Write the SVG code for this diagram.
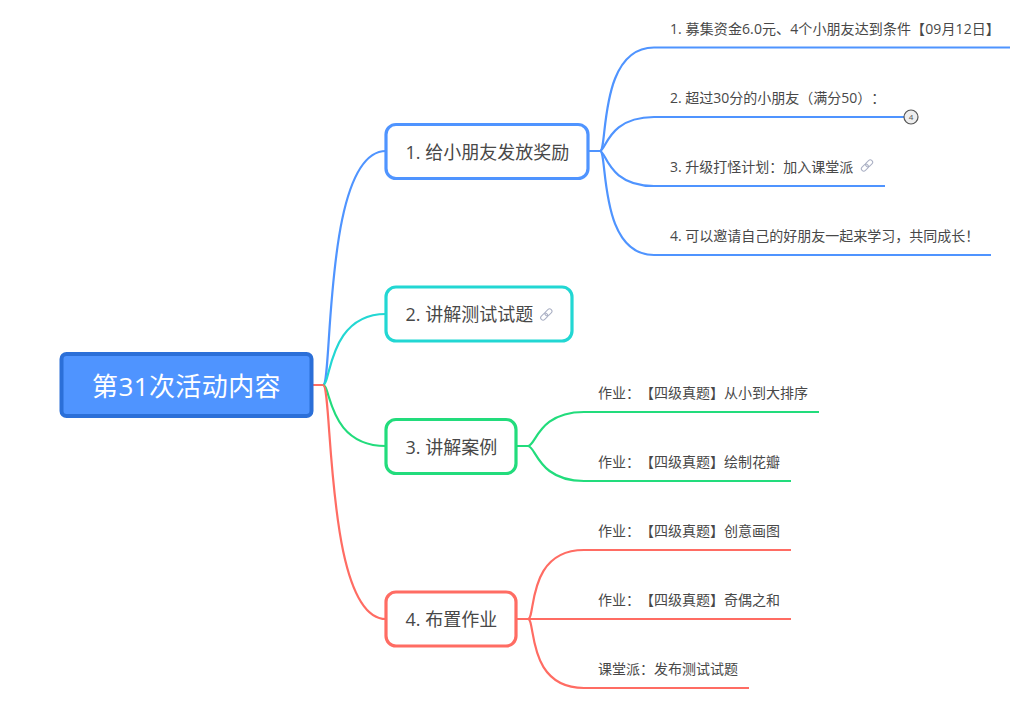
<svg xmlns="http://www.w3.org/2000/svg" width="1023" height="703" viewBox="0 0 1023 703">
<style>
text{font-family:"Open Sans","Noto Sans CJK SC",sans-serif;fill:#484848;text-spacing-trim:space-all;font-feature-settings:"chws" 0,"palt" 0}
.t{font-size:18px}
.l{font-size:14px}
.c{fill:none;stroke-width:2.2;stroke-linecap:butt}
.box{fill:#fff;stroke-width:3.2}
.blue{stroke:#4f94ff}.cyan{stroke:#22d7d3}.green{stroke:#22dc7c}.red{stroke:#ff6c63}
.lk{fill:none;stroke:#aab0c4;stroke-width:1}
</style>
<defs>
<g id="link" transform="rotate(-45)"><rect x="-7" y="-2.400" width="8" height="4.800" rx="2.400" class="lk"/><rect x="-1" y="-2.400" width="8" height="4.800" rx="2.400" class="lk"/></g>
</defs>
<rect width="1023" height="703" fill="#fff"/>
<g id="connectors">
<path class="c blue" d="M313 385H323C333 385 323 151 386 151"/>
<path class="c cyan" d="M313 385H323C331 385 328 314 386 314"/>
<path class="c green" d="M313 385H323C331 385 328 446 386 446"/>
<path class="c red" d="M313 385H323C333 385 325 619 386 619"/>
<path class="c blue" d="M589 151H600C608 151 598 47.5 654 47.5H1010"/>
<path class="c blue" d="M589 151H600C606 151 608 117 654 117H904"/>
<path class="c blue" d="M589 151H600C606 151 608 186 654 186H885"/>
<path class="c blue" d="M589 151H600C608 151 598 255 654 255H991"/>
<path class="c green" d="M517 446H528C536 446 538 412 584 412H819"/>
<path class="c green" d="M517 446H528C536 446 538 481 584 481H791"/>
<path class="c red" d="M517 619H528C536 619 526 550 584 550H791"/>
<path class="c red" d="M517 619H791"/>
<path class="c red" d="M517 619H528C536 619 526 688 584 688H749"/>
</g>
<g id="root">
<rect x="61.500" y="354" width="250" height="62" rx="5" fill="#4f94ff" stroke="#2b6fd8" stroke-width="4"/>
<text x="186.500" y="396" font-size="26" letter-spacing="0.400" text-anchor="middle" style="fill:#fff">第31次活动内容</text>
</g>
<g id="n1"><rect class="box blue" x="386" y="124.500" width="202" height="54" rx="10"/><text class="t" x="405.500" y="159">1. 给小朋友发放奖励</text></g>
<g id="n2"><rect class="box cyan" x="386" y="287" width="186" height="54" rx="10"/><text class="t" x="405.500" y="321">2. 讲解测试试题</text><use href="#link" x="546.300" y="314.500"/></g>
<g id="n3"><rect class="box green" x="386" y="419.500" width="130" height="54" rx="10"/><text class="t" x="405.500" y="454">3. 讲解案例</text></g>
<g id="n4"><rect class="box red" x="386" y="592" width="130" height="54" rx="10"/><text class="t" x="405.500" y="626">4. 布置作业</text></g>
<g id="n1-1"><text class="l" x="670" y="34" letter-spacing="0.100">1. 募集资金6.0元、4个小朋友达到条件【09月12日】</text></g>
<g id="n1-2"><text class="l" x="670" y="103">2. 超过30分的小朋友（满分50）：</text><circle cx="911" cy="117" r="7" fill="#eee" stroke="#555" stroke-width="1.200"/><text x="911" y="120" font-size="8" text-anchor="middle" style="fill:#555">4</text></g>
<g id="n1-3"><text class="l" x="670" y="172">3. 升级打怪计划：加入课堂派</text><use href="#link" x="867" y="165.500"/></g>
<g id="n1-4"><text class="l" x="670" y="241">4. 可以邀请自己的好朋友一起来学习，共同成长！</text></g>
<g id="n3-1"><text class="l" x="598" y="398">作业：【四级真题】从小到大排序</text></g>
<g id="n3-2"><text class="l" x="598" y="467">作业：【四级真题】绘制花瓣</text></g>
<g id="n4-1"><text class="l" x="598" y="536">作业：【四级真题】创意画图</text></g>
<g id="n4-2"><text class="l" x="598" y="605">作业：【四级真题】奇偶之和</text></g>
<g id="n4-3"><text class="l" x="598" y="674">课堂派：发布测试试题</text></g>
</svg>
